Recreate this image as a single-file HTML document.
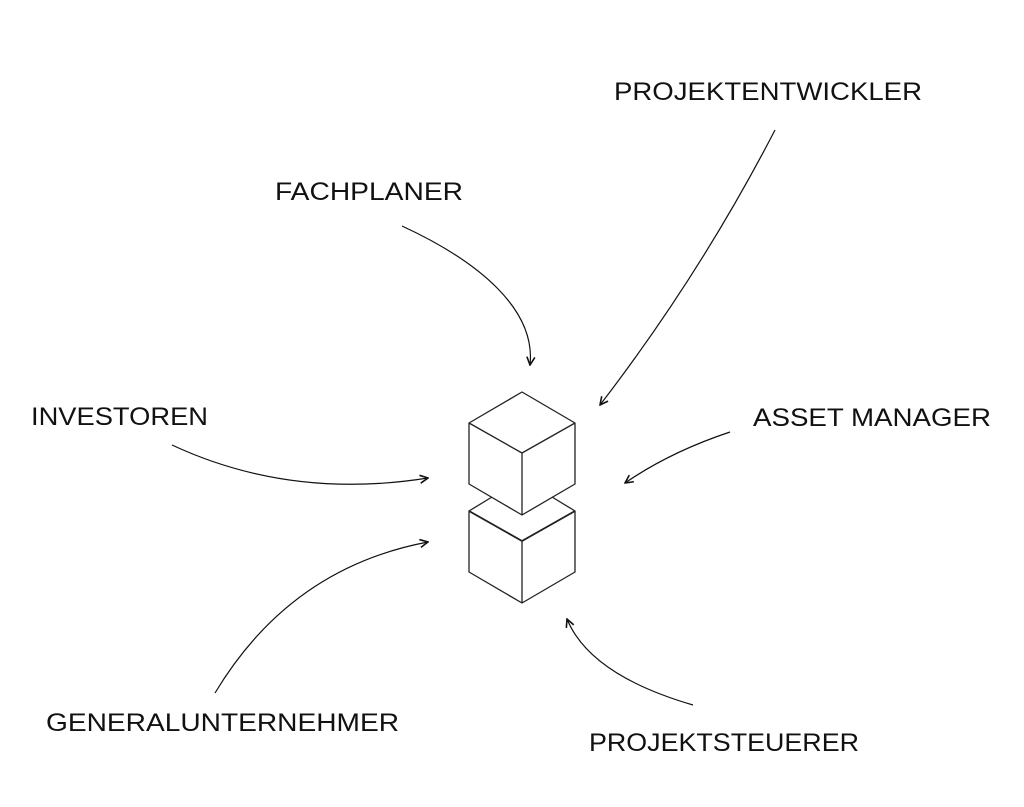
<!DOCTYPE html>
<html><head><meta charset="utf-8"><style>
html,body{margin:0;padding:0;background:#fff;}
svg{display:block}
text{font-family:"Liberation Sans",sans-serif;font-size:25px;fill:#111;font-weight:normal}
</style></head><body>
<svg width="1024" height="807" viewBox="0 0 1024 807" xmlns="http://www.w3.org/2000/svg">
<defs>
<marker id="a" viewBox="0 0 10 10" refX="9" refY="5" markerWidth="10" markerHeight="10" markerUnits="userSpaceOnUse" orient="auto">
<path d="M1 1 L9 5 L1 9" fill="none" stroke="#111" stroke-width="1.6"/>
</marker>
</defs>
<g fill="none" stroke="#222" stroke-width="1.3" stroke-linejoin="round">
<!-- bottom cube -->
<path d="M469 511 L492 497 M575 511 L552 497"/>
<path d="M469 511 L522 541 L575 511 L575 572 L522 603 L469 572 Z M522 541 L522 603"/>
<path d="M469 511 L522 541 L575 511" stroke-width="1.8"/>
<!-- top cube -->
<path d="M522 392 L575 423 L575 484 L522 515 L469 484 L469 423 Z M469 423 L522 453 L575 423 M522 453 L522 515" fill="#fff"/>
</g>
<g fill="none" stroke="#111" stroke-width="1.2" marker-end="url(#a)">
<path d="M402 226 C480 262 536 310 530 365"/>
<path d="M775 130 Q700 275 600 405"/>
<path d="M172 445 Q290 500 428 478"/>
<path d="M730 432 Q670 452 625 483"/>
<path d="M215 693 Q290 568 428 542"/>
<path d="M693 705 Q590 675 567 619"/>
</g>
<text x="614" y="100" textLength="308" lengthAdjust="spacingAndGlyphs">PROJEKTENTWICKLER</text>
<text x="275" y="200" textLength="188" lengthAdjust="spacingAndGlyphs">FACHPLANER</text>
<text x="31" y="425" textLength="177" lengthAdjust="spacingAndGlyphs">INVESTOREN</text>
<text x="753" y="426" textLength="238" lengthAdjust="spacingAndGlyphs">ASSET MANAGER</text>
<text x="46" y="731" textLength="353" lengthAdjust="spacingAndGlyphs">GENERALUNTERNEHMER</text>
<text x="589" y="751" textLength="270" lengthAdjust="spacingAndGlyphs">PROJEKTSTEUERER</text>
</svg>
</body></html>
